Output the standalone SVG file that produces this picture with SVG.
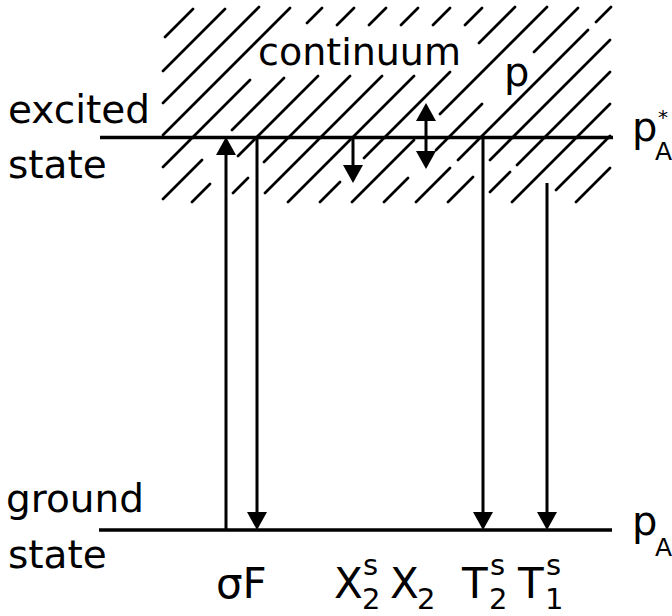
<svg xmlns="http://www.w3.org/2000/svg" xmlns:xlink="http://www.w3.org/1999/xlink" width="672" height="616" viewBox="0 0 672 616">
<style>
.h{stroke:#000;stroke-width:2.7;stroke-linecap:round;fill:none}
.lv{stroke:#000;stroke-width:3.4;fill:none}
.ar{stroke:#000;stroke-width:3;fill:none}
.t{font-family:"DejaVu Sans","Liberation Sans",sans-serif;fill:#000}
.big{font-size:39px}
.lab{font-size:42px}
.sm{font-size:29px}
</style>
<defs>
<path id="hd" d="M-10,-18 L10,-18 L0,0 Z" fill="#000"/>
<path id="hu" d="M-10,18 L10,18 L0,0 Z" fill="#000"/>
</defs>
<rect width="672" height="616" fill="#fff"/>
<g id="continuum">
<path class="h" d="M193,9L165,37 M225,9L163,71 M259,7L163,103 M290,8L163,135
M322,8L307,23 M250,80L163,167
M354,8L337,25 M284,78L232,130 M202,160L163,199
M386,8L369,25 M318,76L238,156 M210,184L192,202
M418,8L401,25 M350,76L264,162 M248,178L233,193
M450,8L433,25 M382,76L265,193
M482,8L465,25 M414,76L288,202
M515,7L479,43 M450,72L364,158 M340,182L320,202
M547,7L440,114 M414,140L352,202
M578,8L534,52 M482,104L436,150 M408,178L384,202
M611,7L596,22 M588,30L458,160 M450,168L416,202
M610,40L490,160 M473,177L448,202
M610,72L517,165 M510,172L490,192
M610,104L512,202
M610,136L556,190
M610,168L576,202"/>
<text class="t" x="258" y="65" font-size="38">continuum</text>
<text class="t" x="504" y="86" font-size="40">p</text>
</g>
<g id="excited-state">
<line class="lv" x1="100" y1="137.5" x2="613" y2="137.5"/>
<text class="t big" x="8" y="123">excited</text>
<text class="t big" x="8" y="178">state</text>
<text class="t" x="632" y="141" font-size="40">p</text>
<text class="t" x="655" y="160" font-size="25">A</text>
<text class="t" x="658" y="124" font-size="20">*</text>
</g>
<g id="ground-state">
<line class="lv" x1="99" y1="530" x2="612" y2="530"/>
<text class="t big" x="6" y="512">ground</text>
<text class="t big" x="8" y="568">state</text>
<text class="t" x="632" y="535" font-size="40">p</text>
<text class="t" x="655" y="556" font-size="25">A</text>
</g>
<g id="connectors">
<line class="ar" x1="226" y1="530" x2="226" y2="150"/>
<use xlink:href="#hu" href="#hu" x="226" y="137"/>
<line class="ar" x1="257" y1="137" x2="257" y2="516"/>
<use xlink:href="#hd" href="#hd" x="257" y="530"/>
<line class="ar" x1="353" y1="137" x2="353" y2="168"/>
<use xlink:href="#hd" href="#hd" x="353" y="183"/>
<line class="ar" x1="426" y1="117" x2="426" y2="155"/>
<use xlink:href="#hu" href="#hu" x="426" y="103"/>
<use xlink:href="#hd" href="#hd" x="426" y="169"/>
<line class="ar" x1="483" y1="137" x2="483" y2="516"/>
<use xlink:href="#hd" href="#hd" x="483" y="530"/>
<line class="ar" x1="547" y1="183" x2="547" y2="516"/>
<use xlink:href="#hd" href="#hd" x="547" y="530"/>
</g>
<g id="transition-labels">
<text class="t lab" x="216" y="598">σF</text>
<text class="t lab" x="334" y="598">X</text>
<text class="t sm" x="362" y="609">2</text>
<text class="t sm" x="363" y="575">s</text>
<text class="t lab" x="390" y="598">X</text>
<text class="t sm" x="417" y="609">2</text>
<text class="t lab" x="462" y="598">T</text>
<text class="t sm" x="489" y="609">2</text>
<text class="t sm" x="490" y="575">s</text>
<text class="t lab" x="518" y="598">T</text>
<text class="t sm" x="545" y="609">1</text>
<text class="t sm" x="546" y="575">s</text>
</g>
</svg>
